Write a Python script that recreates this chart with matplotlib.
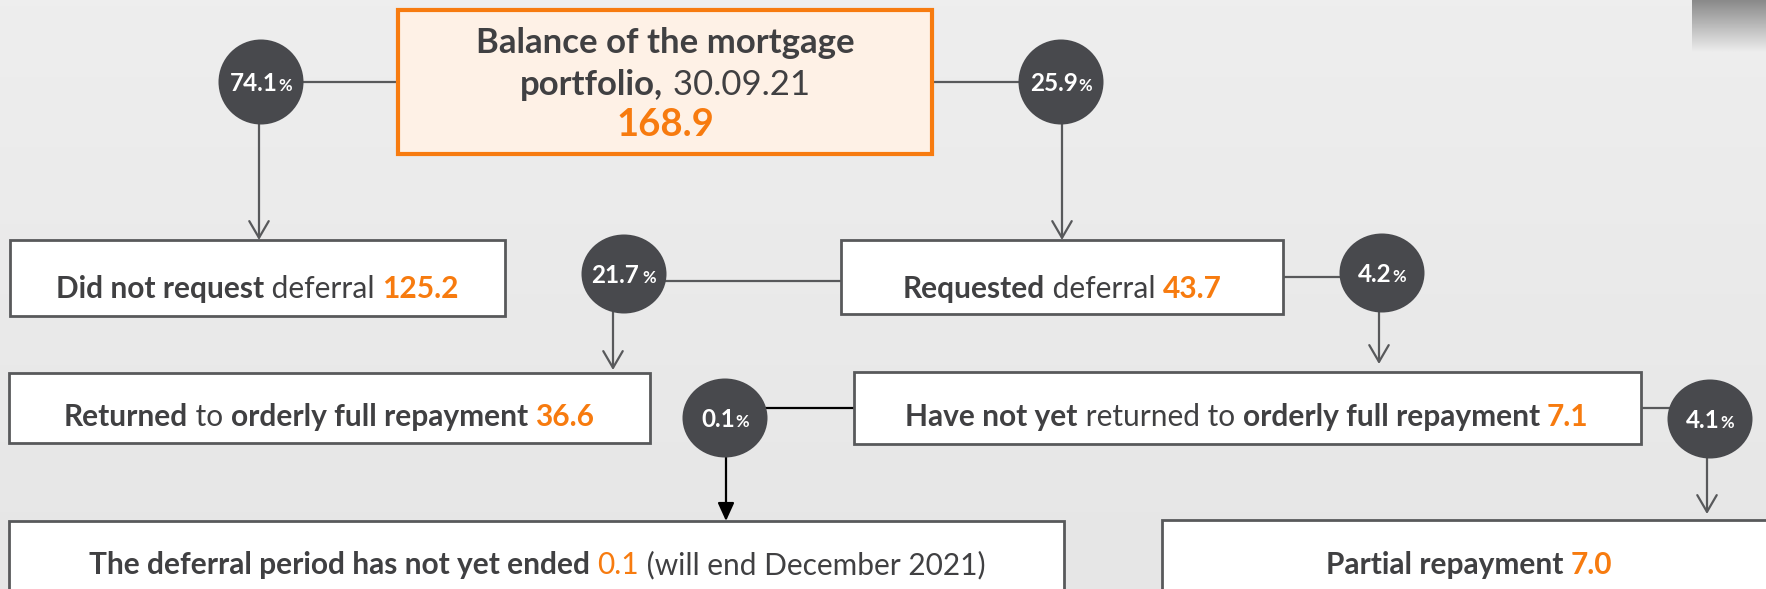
import matplotlib.pyplot as plt
import numpy as np
from matplotlib.patches import Rectangle, Ellipse
from matplotlib.colors import LinearSegmentedColormap

plt.rcParams['font.family'] = ['Lato', 'DejaVu Sans']

# chart content
portfolio_total = '168.9'
portfolio_date = '30.09.21'
shares = ['74.1', '25.9', '21.7', '4.2', '0.1', '4.1']
share_gap = ['', '', ' ', '', '', '']   # the 21.7 label has a space before %
did_not_request = '125.2'
requested = '43.7'
returned = '36.6'
not_returned = '7.1'
not_ended = '0.1'
partial = '7.0'

GREY = '#404042'
ORANGE = '#F77B0F'
LINE = '#58595B'
DARK = '#48494D'
W, H = 1766, 589

fig = plt.figure(figsize=(W / 100, H / 100), dpi=100)
ax = fig.add_axes([0, 0, 1, 1])
ax.set_xlim(0, W); ax.set_ylim(H, 0); ax.axis('off')
renderer = fig.canvas.get_renderer()

# background
bg = LinearSegmentedColormap.from_list('bg', ['#eeeeee', '#e6e6e6'])
ax.imshow(np.linspace(0, 1, 100)[:, None], cmap=bg, extent=(0, W, H, 0), aspect='auto', zorder=0)
corner = LinearSegmentedColormap.from_list('corner', ['#8a8a8a', '#ececec'])
ax.imshow(np.linspace(0, 1, 50)[:, None], cmap=corner, extent=(1692, W, 52, 0), aspect='auto', zorder=1)
ax.set_xlim(0, W); ax.set_ylim(H, 0)


def width_of(s, **kw):
    t = ax.text(0, 0, 'x' + s + 'x', **kw); a = t.get_window_extent(renderer).width; t.remove()
    t = ax.text(0, 0, 'xx', **kw); b = t.get_window_extent(renderer).width; t.remove()
    return a - b


def rich(cx, base, parts, size=21.5):
    # parts: (text, bold, color[, size])
    specs = []
    for p in parts:
        kw = dict(fontsize=p[3] if len(p) > 3 else size, fontweight='bold' if p[1] else 'normal', color=p[2])
        specs.append((p[0], kw, width_of(p[0], **kw)))
    x = cx - sum(s[2] for s in specs) / 2
    for s, kw, w in specs:
        ax.text(x, base, s, ha='left', va='baseline', zorder=6, **kw)
        x += w


def box(x0, y0, x1, y1, fc='white', ec=LINE, lw=2.0):
    ax.add_patch(Rectangle((x0, y0), x1 - x0, y1 - y0, fc=fc, ec=ec, lw=lw, zorder=3))


def hline(xa, xb, y, color=LINE):
    ax.plot([xa, xb], [y, y], color=color, lw=1.6, zorder=2, solid_capstyle='butt')


def arrow(x, ya, yb, color=LINE, filled=False):
    style = '-|>,head_length=1.1,head_width=0.5' if filled else '->,head_length=1.2,head_width=0.7'
    ax.annotate('', xy=(x, yb), xytext=(x, ya), zorder=4,
                arrowprops=dict(arrowstyle=style, color=color, lw=1.6, shrinkA=0, shrinkB=0))


def bubble(cx, cy, i, h=79):
    ax.add_patch(Ellipse((cx, cy), 85, h, fc=DARK, ec='none', zorder=5))
    rich(cx, cy + 9, [(shares[i], True, 'white', 17.5), (share_gap[i] + '%', True, 'white', 12)])


# connectors
hline(300, 398, 82); hline(932, 1020, 82)
hline(660, 841, 281); hline(1283, 1345, 277)
hline(765, 854, 408, color='black'); hline(1641, 1670, 408)
arrow(259, 124, 240); arrow(1062, 124, 240)
arrow(613, 312, 370); arrow(1379, 312, 364)
arrow(726, 457, 521, color='black', filled=True); arrow(1707, 457, 514)

# boxes
box(398, 10, 932, 154, fc='#FEF1E6', ec=ORANGE, lw=3.0)
box(10, 240, 505, 316)
box(841, 240, 1283, 314)
box(9, 373, 650, 443)
box(854, 372, 1641, 444)
box(9, 521, 1064, 620)
box(1162, 520, 1790, 620)

# circles
bubble(261, 82, 0, 85); bubble(1061, 82, 1, 85)
bubble(624, 274, 2); bubble(1382, 273, 3)
bubble(725, 418, 4); bubble(1710, 419, 5)

# texts
rich(665, 53, [('Balance of the mortgage', True, GREY)], 25)
rich(665, 95, [('portfolio,', True, GREY), (' ' + portfolio_date, False, GREY)], 25)
rich(665, 136, [(portfolio_total, True, ORANGE)], 27.5)
rich(257, 298, [('Did not request', True, GREY), (' deferral ', False, GREY), (did_not_request, True, ORANGE)])
rich(1062, 298, [('Requested', True, GREY), (' deferral ', False, GREY), (requested, True, ORANGE)])
rich(329, 426, [('Returned', True, GREY), (' to ', False, GREY), ('orderly full repayment ', True, GREY),
                (returned, True, ORANGE)])
rich(1247, 426, [('Have not yet', True, GREY), (' returned to ', False, GREY), ('orderly full repayment ', True, GREY),
                 (not_returned, True, ORANGE)])
rich(537, 574, [('The deferral period has not yet ended ', True, GREY), (not_ended, False, ORANGE),
                (' (will end December 2021)', False, GREY)])
rich(1469, 574, [('Partial repayment ', True, GREY), (partial, True, ORANGE)])

fig.savefig('out.png', dpi=100)
